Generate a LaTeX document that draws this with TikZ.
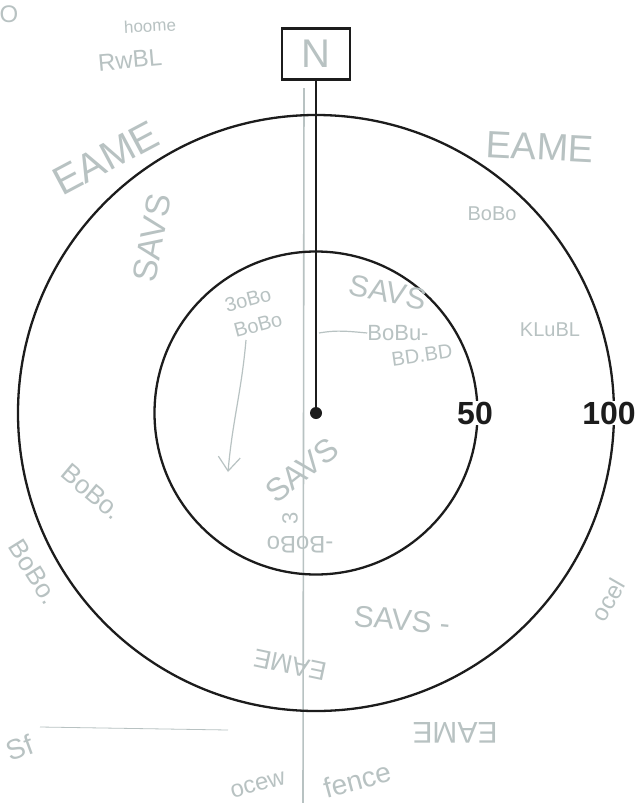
\documentclass[tikz,border=0pt]{standalone}
\usepackage{fontspec}
\setmainfont{Liberation Sans}
\usepackage{tikz}
\usetikzlibrary{shapes.geometric, arrows.meta, positioning, calc}
\usepackage{xcolor}
\definecolor{ink}{RGB}{28,28,28}
\definecolor{pencil}{RGB}{184,194,194}

\tikzset{
  ring/.style={draw=ink, line width=2.3pt},
  scalelabel/.style={font=\bfseries\fontsize{32}{32}\selectfont, text=ink, fill=white, inner sep=1pt},
  pencilnote/.style={text=pencil, inner sep=0pt},
  pencilline/.style={draw=pencil, line width=1.2pt}
}
\newcommand{\hand}[1]{\fontsize{#1}{#1}\selectfont}

\begin{document}
\begin{tikzpicture}[x=1pt, y=-1pt]
      \useasboundingbox (0,0) rectangle (637,803);
      \fill[white] (0,0) rectangle (637,803);

      % Pencil strokes behind the drawing
      \draw[pencilline, line width=1.6pt] (304,88) -- (303,803);
      \draw[pencilline, line width=0.8pt] (40,727) -- (228,730);

      % Centre and rings
      \node [circle, fill=ink, minimum size=12pt, inner sep=0pt] (hub) at (316,413) {};
      \draw [ring] (hub) circle [radius=298pt];
      \draw [ring] (hub) circle [radius=161.5pt];

      % North marker
      \node [draw=ink, fill=white, rectangle, line width=2.3pt, minimum width=68pt, minimum height=51pt, text=pencil, font=\hand{40}] (north) at (316,54) {N};
      \draw [ink, line width=2.3pt] (hub) -- (north);

      % Scale labels
      \node [scalelabel] (lbl50) at (475,413) {50};
      \node [scalelabel] (lbl100) at (609,413) {100};

      % Pencil notes
      \node [pencilnote, font=\hand{24}] (noteO) at (9,14) {O};
      \node [pencilnote, font=\hand{17}, rotate=3] (noteHome) at (150,26) {hoome};
      \node [pencilnote, font=\hand{24}, rotate=5] (noteRwbl) at (130,60) {RwBL};
      \node [pencilnote, font=\hand{40}, rotate=28] (noteEameL) at (106,158) {EAME};
      \node [pencilnote, font=\hand{38}, rotate=-3] (noteEameR) at (540,147) {EAME};
      \node [pencilnote, font=\hand{34}, rotate=80] (noteSavsL) at (152,238) {SAVS};
      \node [pencilnote, font=\hand{20}] (noteBoboR) at (492,214) {BoBo};
      \node [pencilnote, font=\hand{30}, rotate=-12] (noteSavsIn) at (388,292) {SAVS};
      \node [pencilnote, font=\hand{20}, rotate=15] (noteBoboA) at (248,300) {3oBo};
      \node [pencilnote, font=\hand{20}, rotate=15] (noteBoboB) at (258,325) {BoBo};
      \node [pencilnote, font=\hand{22}] (noteBoboC) at (398,333) {BoBu-};
      \node [pencilnote, font=\hand{20}, rotate=8] (noteBoboD) at (422,355) {BD.BD};
      \node [pencilnote, font=\hand{20}] (noteKlubl) at (550,330) {KLuBL};
      \node [pencilnote, font=\hand{32}, rotate=38] (noteSavsC) at (302,470) {SAVS};
      \node [pencilnote, font=\hand{22}, rotate=90] (noteThree) at (290,518) {3};
      \node [pencilnote, font=\hand{24}, rotate=180] (noteBoboE) at (300,545) {-BoBo};
      \node [pencilnote, font=\hand{26}, rotate=-40] (noteBoboL1) at (92,492) {BoBo.};
      \node [pencilnote, font=\hand{26}, rotate=-58] (noteBoboL2) at (34,572) {BoBo.};
      \node [pencilnote, font=\hand{30}, rotate=-5] (noteSavsB) at (402,620) {SAVS -};
      \node [pencilnote, font=\hand{26}, rotate=168] (noteEameC) at (290,665) {EAME};
      \node [pencilnote, font=\hand{30}, rotate=180] (noteEameB) at (455,733) {EAME};
      \node [pencilnote, font=\hand{24}, rotate=60] (noteOcel) at (608,600) {ocel};
      \node [pencilnote, font=\hand{28}, rotate=20] (noteSf) at (20,748) {Sf};
      \node [pencilnote, font=\hand{24}, rotate=15] (noteOcew) at (258,785) {ocew};
      \node [pencilnote, font=\hand{28}, rotate=15] (noteFence) at (357,780) {fence};

      % Pencil pointers
      \coordinate (tailC) at (319,333);
      \draw [pencilline] (noteBoboC.west) to[out=175, in=10] (tailC);
      \coordinate (arrowTop) at (246,340);
      \coordinate (arrowEnd) at (228,472);
      \draw [pencilline, -{Straight Barb[length=14pt, width=22pt]}] (arrowTop) to[out=-95, in=85] (arrowEnd);
    \end{tikzpicture}
\end{document}
